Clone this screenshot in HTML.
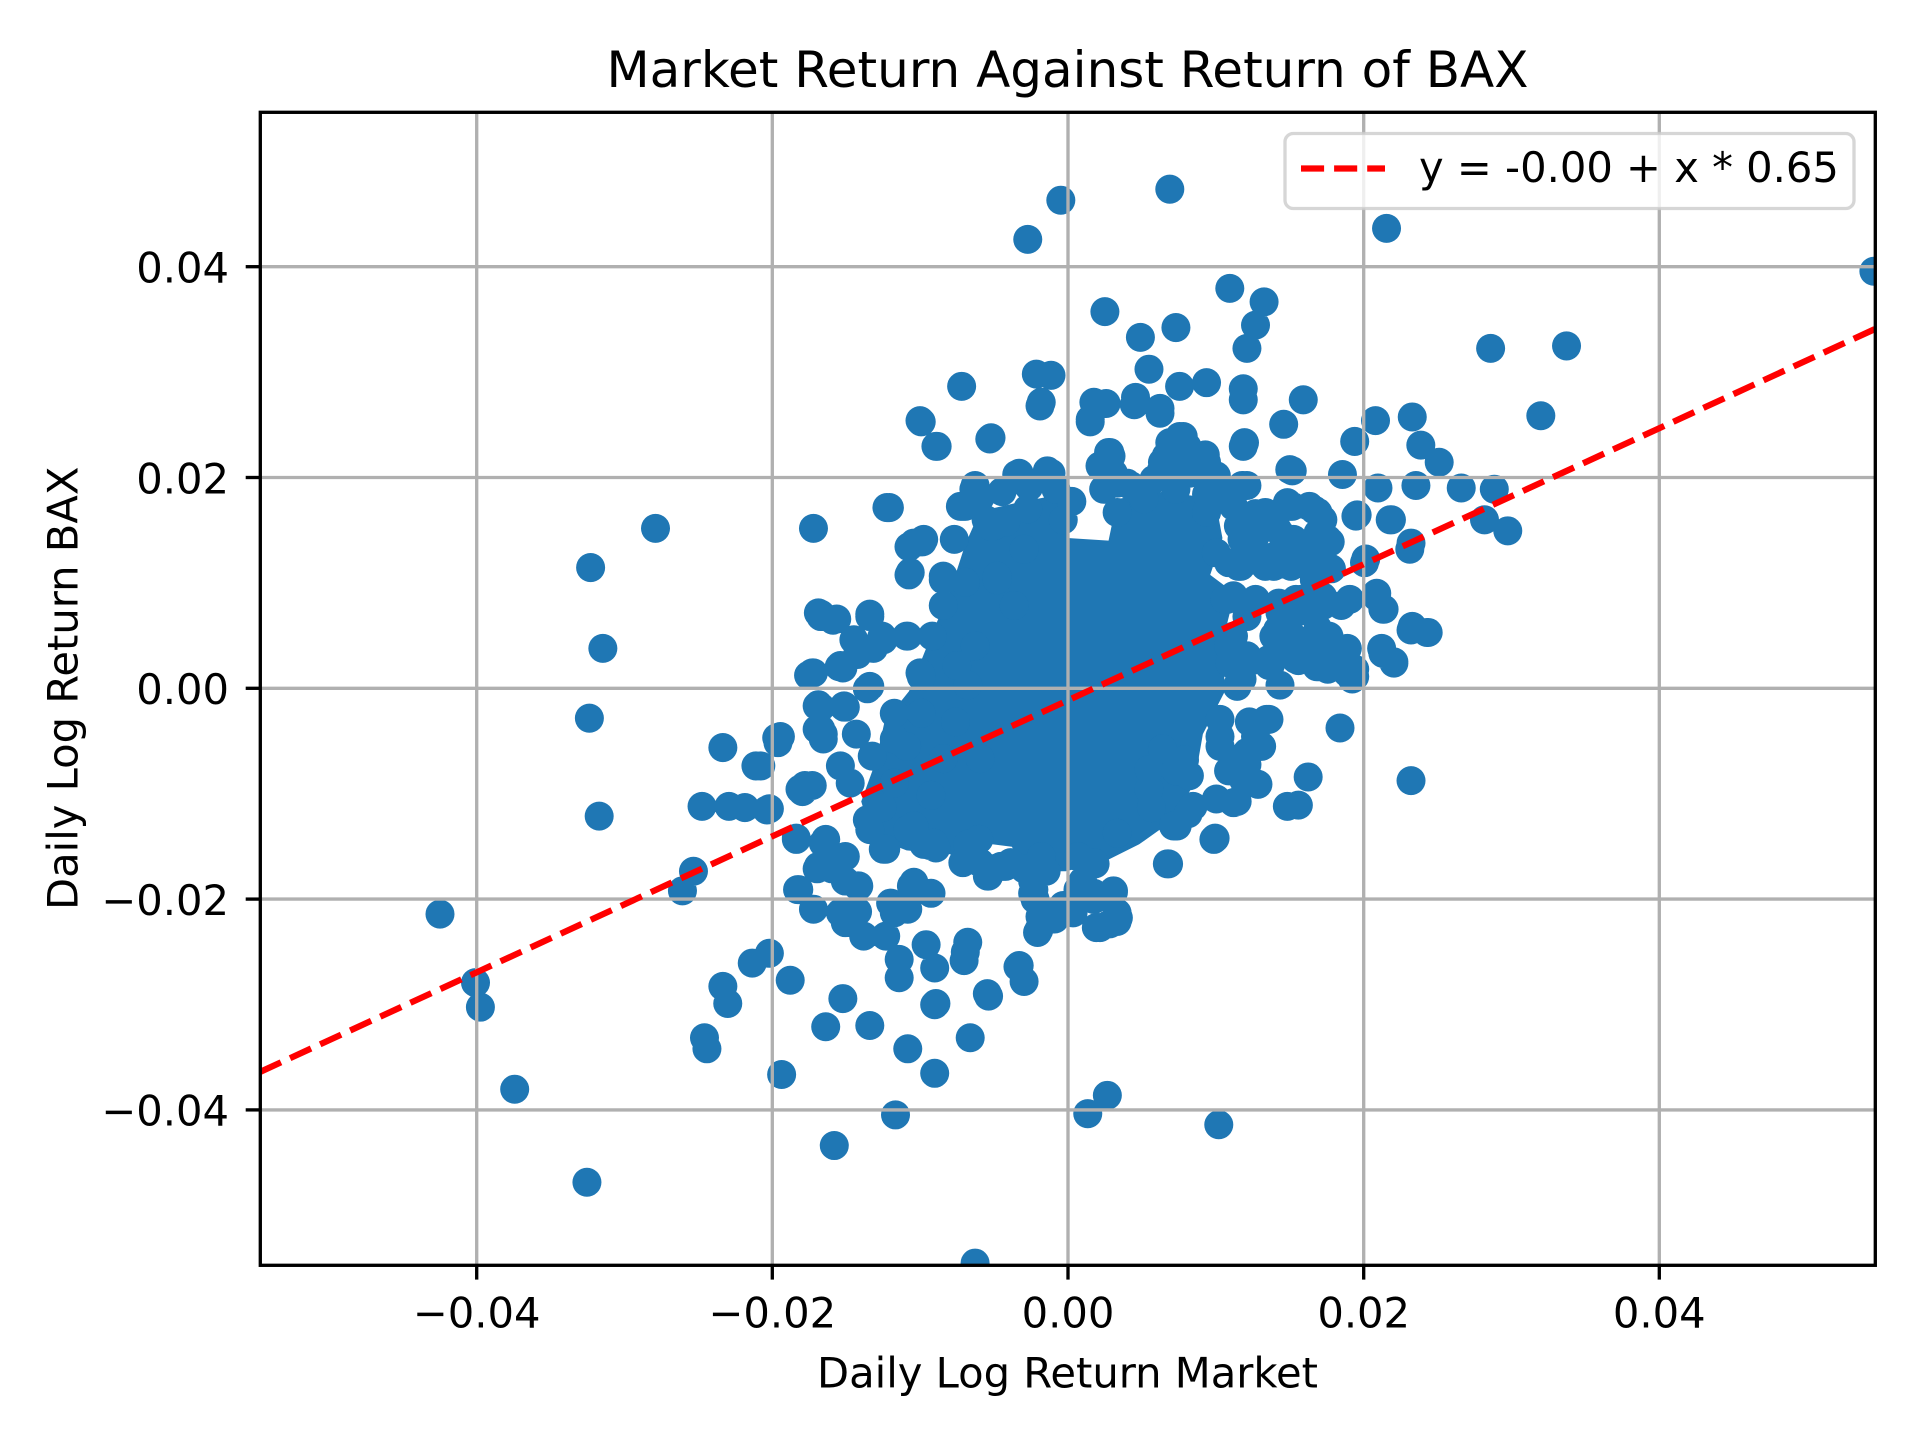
<!DOCTYPE html>
<html>
<head>
<meta charset="utf-8">
<style>
html,body{margin:0;padding:0;background:#fff;}
svg{display:block;}
text{font-family:"DejaVu Sans","Liberation Sans",sans-serif;fill:#000;}
</style>
</head>
<body>
<svg width="1920" height="1440" viewBox="0 0 1920 1440" xmlns="http://www.w3.org/2000/svg">
<defs>
<clipPath id="ax"><rect x="260" y="112" width="1615" height="1153"/></clipPath>
</defs>
<rect x="0" y="0" width="1920" height="1440" fill="#fff"/>

<!-- scatter -->
<g clip-path="url(#ax)">
<g transform="translate(0.4,-0.6) scale(1.2245)">
<polygon fill="#1f77b4" points="800,418 835,410 862,405 873,440 905,442 912,408 950,402 992,408 998,440 988,470 1008,485 998,525 1000,565 982,600 975,640 958,670 930,690 900,705 870,712 838,712 826,692 810,690 800,705 775,698 740,695 712,684 703,655 715,622 722,590 742,565 760,520 776,482 788,445"/>
<path fill="none" stroke="#1f77b4" stroke-width="23.7" stroke-linecap="round" d="
M866 164h0M955 155h0M839 196h0M1132 187h0M1530 222h0M1004 236h0M1032 247h0M902 255h0M1025 266h0M960 268h0M931 276h0M1018 285h0M1217 285h0M1279 283h0M938 302h0M846 306h0M858 307h0M785 316h0M963 316h0M985 313h0M1015 318h0M927 325h0M850 329h0M893 329h0M903 330h0M1064 327h0M947 334h0M752 345h0M890 345h0M1048 347h0M1258 340h0M1153 341h0M764 365h0M809 358h0M1123 344h0M1016 362h0M1106 361h0M1160 364h0M1175 378h0M907 373h0M959 367h0M969 365h0M984 372h0M948 385h0M1055 385h0M1193 399h0M1220 400h0M1156 397h0M1125 399h0M1096 388h0M830 388h0M855 390h0M796 401h0M1018 397h0M1231 434h0M1212 425h0M1135 425h0M1108 421h0M1152 444h0M535 432h0M664 432h0M726 415h0M482 464h0M779 441h0M742 447h0M753 443h0M743 468h0M1114 460h0M1124 488h0M1130 498h0M1128 530h0M1152 515h0M1165 517h0M1138 541h0M1104 555h0M1094 595h0M1152 638h0M1060 658h0M1068 635h0M492 530h0M481 587h0M489 667h0M359 747h0M388 803h0M392 823h0M420 890h0M479 966h0M557 728h0M566 712h0M573 659h0M590 611h0M595 659h0M608 660h0M617 626h0M626 662h0M634 603h0M650 685h0M655 647h0M660 552h0M663 642h0M668 501h0M670 578h0M672 600h0M680 507h0M688 546h0M689 578h0M710 502h0
M590 806h0M594 820h0M575 848h0M577 857h0M614 787h0M628 779h0M645 801h0M638 878h0M674 839h0M688 816h0M681 936h0M710 838h0M731 911h0M741 857h0M763 877h0M764 820h0M788 778h0M792 848h0M806 812h0M831 790h0M836 802h0M888 910h0M904 895h0M995 919h0M796 1032h0
M954 706h0M958 675h0M970 665h0M992 685h0M1010 655h0M1018 625h0M1030 610h0M1036 588h0M1027 641h0M1016 619h0M996 610h0M1007 656h0M974 659h0M971 634h0M938 645h0M912 681h0M894 706h0M909 729h0M912 753h0M898 758h0M880 727h0M876 746h0M861 751h0M847 762h0M843 730h0M854 712h0M821 708h0M836 710h0M807 716h0M792 697h0M799 686h0M832 789h0M807 814h0M790 770h0M787 785h0M756 772h0M763 791h0M734 784h0M734 799h0M763 821h0M792 848h0M723 765h0M705 765h0M690 754h0M697 746h0M664 743h0M652 727h0M701 724h0M746 724h0M741 743h0M730 746h0M679 710h0M668 708h0M690 700h0M674 686h0M723 694h0M759 691h0M741 678h0M650 686h0M628 661h0M657 642h0M708 670h0M694 640h0M686 626h0M712 618h0M635 607h0M621 626h0M672 604h0
M1107 422h0M1136 425h0M1151 449h0M1115 457h0M1124 485h0M1129 498h0M1153 512h0M1166 517h0M1129 534h0M1138 542h0M1095 542h0M1106 553h0M1025 602h0M996 588h0M1102 490h0M1080 495h0M1095 495h0M1073 474h0M1076 514h0M1058 539h0M1036 544h0M1014 555h0M1000 490h0M1011 463h0M1040 463h0M1014 441h0M993 452h0M1033 419h0M1055 414h0M1076 419h0M1076 436h0M1080 457h0M1014 397h0M1011 430h0M967 365h0M952 373h0M982 373h0M905 370h0M909 387h0M952 381h0M912 395h0M832 387h0M858 387h0M796 397h0M788 414h0M808 430h0M821 427h0M839 416h0M754 441h0M742 470h0M770 471h0M788 476h0M814 471h0M770 495h0M836 449h0M670 502h0M683 506h0M710 504h0M697 523h0M721 523h0M741 520h0M761 520h0M685 545h0M663 550h0M710 561h0M668 576h0M690 578h0M670 596h0M635 603h0M699 600h0M730 583h0M730 604h0M752 583h0M752 553h0M781 544h0M796 528h0
M1051 411h0M1069 414h0M1080 425h0M1084 441h0M1069 452h0M1058 446h0M1047 438h0M1025 438h0M1033 463h0M1054 463h0M1073 463h0M1087 465h0M1007 487h0M1025 490h0M1044 493h0M1058 490h0M1003 528h0M1018 536h0M1007 544h0M1044 528h0M1062 528h0M1080 534h0M1084 547h0M1106 547h0M1036 539h0M949 612h0M967 621h0M938 629h0M1025 610h0M1018 618h0M1000 403h0M985 419h0M1007 414h0M963 357h0M949 378h0M985 378h0M971 387h0M942 392h0M993 389h0M923 397h0M934 408h0M912 419h0M901 400h0M856 386h0M1043 515h0M1052 520h0M1060 540h0M1075 545h0M1090 545h0M1100 550h0M1020 590h0M996 602h0M700 535h0M713 530h0M720 520h0M810 710h0M786 705h0M845 735h0M848 760h0M857 750h0M862 745h0M700 745h0M690 720h0M760 730h0M744 724h0M764 693h0M754 690h0M790 690h0M800 705h0M825 705h0M843 720h0M884 720h0M893 730h0M906 755h0M913 750h0M895 758h0M893 735h0M1045 560h0M1055 520h0M1078 545h0M1085 520h0M1100 530h0M1080 488h0M1077 460h0M1062 445h0M1078 435h0M1086 443h0M1073 417h0M1043 433h0M1040 455h0M1003 460h0M1023 455h0M1015 440h0M988 395h0M1005 405h0M1025 420h0M1007 520h0M1003 630h0M1022 540h0M1040 520h0M1060 500h0
M653 645h0M672 689h0M667 710h0M651 727h0M700 724h0M746 721h0M727 738h0M686 746h0M721 694h0M762 689h0M746 675h0M710 678h0M686 702h0M637 602h0M667 596h0M689 577h0M667 577h0M664 550h0M708 563h0M686 544h0M697 523h0M670 504h0M710 504h0M740 520h0M751 550h0M743 468h0M746 444h0M724 415h0M751 344h0M765 365h0M808 359h0M849 332h0M830 388h0M855 385h0M795 400h0M784 414h0M811 430h0M770 474h0M814 474h0M770 495h0M828 495h0
M1015 365h0M1048 347h0M1053 384h0M1053 414h0M1032 422h0M1013 463h0M1002 490h0M1037 544h0M1051 659h0M1015 637h0M993 653h0M1034 588h0M1018 615h0M991 686h0M961 675h0M953 706h0M996 602h0M1010 561h0M1004 542h0M1018 504h0M1045 501h0M1062 490h0
M909 728h0M893 705h0M844 727h0M806 716h0M789 702h0M868 740h0M912 746h0M849 749h0M817 708h0M906 370h0M898 381h0M920 395h0M955 362h0M966 357h0M983 376h0M950 381h0M1015 397h0M1056 441h0M926 331h0M947 338h0M890 343h0M1015 327h0
M780 590h0M790 560h0M770 620h0M760 650h0M730 640h0M720 660h0M740 610h0M800 620h0M960 630h0M940 660h0M880 700h0M850 700h0
M800 407h0M818 402h0M840 398h0M862 400h0M875 410h0M930 402h0M960 400h0M985 404h0M868 425h0M805 425h0
"/>
</g>
</g>

<!-- grid (drawn above scatter, as in matplotlib) -->
<g stroke="#b0b0b0" stroke-width="3.33" fill="none">
<line x1="476.7" y1="112" x2="476.7" y2="1265"/>
<line x1="772.3" y1="112" x2="772.3" y2="1265"/>
<line x1="1068" y1="112" x2="1068" y2="1265"/>
<line x1="1363.7" y1="112" x2="1363.7" y2="1265"/>
<line x1="1659.3" y1="112" x2="1659.3" y2="1265"/>
<line x1="260" y1="266.7" x2="1875" y2="266.7"/>
<line x1="260" y1="477.5" x2="1875" y2="477.5"/>
<line x1="260" y1="688.3" x2="1875" y2="688.3"/>
<line x1="260" y1="899.1" x2="1875" y2="899.1"/>
<line x1="260" y1="1109.9" x2="1875" y2="1109.9"/>
</g>

<!-- regression line -->
<g clip-path="url(#ax)">
<line x1="260" y1="1072" x2="1875" y2="329" stroke="#ff0000" stroke-width="6.25" stroke-dasharray="23.1 10"/>
</g>

<!-- spines -->
<rect x="260.3" y="112.3" width="1615" height="1153" fill="none" stroke="#000" stroke-width="3.33"/>

<!-- ticks -->
<g stroke="#000" stroke-width="3.33">
<line x1="476.7" y1="1265" x2="476.7" y2="1279.6"/>
<line x1="772.3" y1="1265" x2="772.3" y2="1279.6"/>
<line x1="1068" y1="1265" x2="1068" y2="1279.6"/>
<line x1="1363.7" y1="1265" x2="1363.7" y2="1279.6"/>
<line x1="1659.3" y1="1265" x2="1659.3" y2="1279.6"/>
<line x1="245.7" y1="266.7" x2="260" y2="266.7"/>
<line x1="245.7" y1="477.5" x2="260" y2="477.5"/>
<line x1="245.7" y1="688.3" x2="260" y2="688.3"/>
<line x1="245.7" y1="899.1" x2="260" y2="899.1"/>
<line x1="245.7" y1="1109.9" x2="260" y2="1109.9"/>
</g>

<!-- tick labels -->
<g font-size="41.67" text-anchor="middle">
<text x="476.7" y="1327.5">−0.04</text>
<text x="772.3" y="1327.5">−0.02</text>
<text x="1068" y="1327.5">0.00</text>
<text x="1363.7" y="1327.5">0.02</text>
<text x="1659.3" y="1327.5">0.04</text>
</g>
<g font-size="41.67" text-anchor="end">
<text x="229" y="282.5">0.04</text>
<text x="229" y="493.3">0.02</text>
<text x="229" y="704.1">0.00</text>
<text x="229" y="914.9">−0.02</text>
<text x="229" y="1125.7">−0.04</text>
</g>

<!-- axis labels & title -->
<text x="1067.5" y="1387.5" font-size="41.67" text-anchor="middle">Daily Log Return Market</text>
<text transform="translate(77.5,688.3) rotate(-90)" font-size="41.67" text-anchor="middle">Daily Log Return BAX</text>
<text x="1067.5" y="87" font-size="50" text-anchor="middle">Market Return Against Return of BAX</text>

<!-- legend -->
<rect x="1285" y="133.5" width="569" height="75" rx="8.3" ry="8.3" fill="#ffffff" fill-opacity="0.8" stroke="#cccccc" stroke-opacity="0.8" stroke-width="3.33"/>
<line x1="1301" y1="168.5" x2="1385" y2="168.5" stroke="#ff0000" stroke-width="6.25" stroke-dasharray="23.1 10"/>
<text x="1419" y="182" font-size="41.67">y = -0.00 + x * 0.65</text>
</svg>
</body>
</html>
